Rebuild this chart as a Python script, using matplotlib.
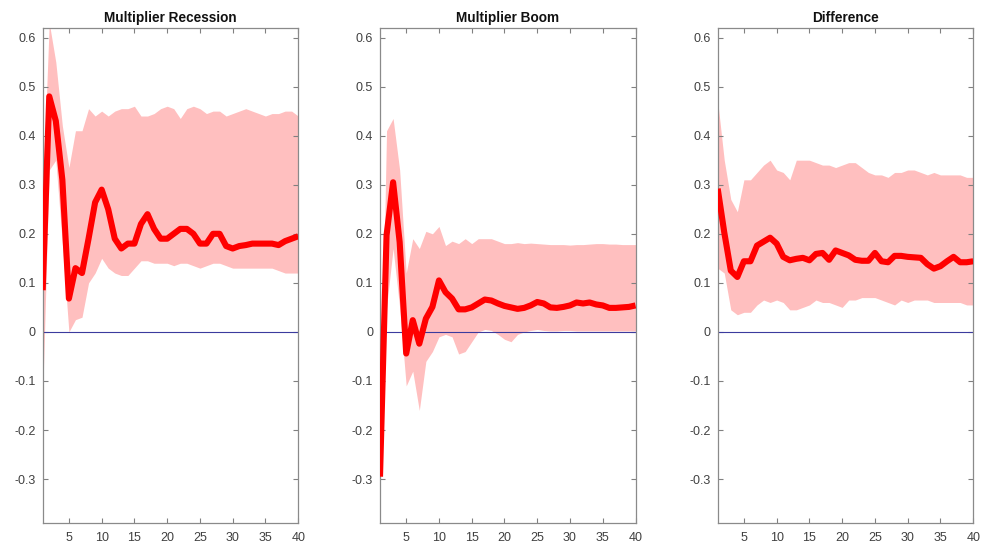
import numpy as np
import matplotlib
matplotlib.use("Agg")
import matplotlib.pyplot as plt

plt.rcParams['font.family'] = ['Liberation Sans', 'DejaVu Sans']

horizon = np.arange(1, 41)

titles = ["Multiplier Recession", "Multiplier Boom", "Difference"]

rec_mid = [0.085, 0.48, 0.43, 0.31, 0.068, 0.13, 0.12, 0.19, 0.264, 0.29,
           0.25, 0.19, 0.17, 0.18, 0.18, 0.22, 0.24, 0.21, 0.19, 0.19,
           0.20, 0.21, 0.21, 0.20, 0.18, 0.18, 0.20, 0.20, 0.175, 0.17,
           0.175, 0.177, 0.18, 0.18, 0.18, 0.18, 0.177, 0.185, 0.19, 0.195]
rec_up = [0.28, 0.63, 0.55, 0.42, 0.335, 0.41, 0.41, 0.455, 0.44, 0.45,
          0.44, 0.45, 0.455, 0.455, 0.46, 0.44, 0.44, 0.445, 0.455, 0.46,
          0.455, 0.435, 0.455, 0.46, 0.455, 0.445, 0.45, 0.45, 0.44, 0.445,
          0.45, 0.455, 0.45, 0.445, 0.44, 0.445, 0.445, 0.45, 0.45, 0.44]
rec_lo = [-0.13, 0.33, 0.35, 0.18, 0.0, 0.025, 0.03, 0.10, 0.12, 0.15,
          0.13, 0.12, 0.115, 0.115, 0.13, 0.145, 0.145, 0.14, 0.14, 0.14,
          0.135, 0.14, 0.14, 0.135, 0.13, 0.135, 0.14, 0.14, 0.135, 0.13,
          0.13, 0.13, 0.13, 0.13, 0.13, 0.13, 0.125, 0.12, 0.12, 0.12]

boom_mid = [-0.295, 0.197, 0.305, 0.183, -0.044, 0.024, -0.024, 0.027, 0.051, 0.105,
            0.081, 0.068, 0.046, 0.046, 0.05, 0.058, 0.066, 0.064, 0.058, 0.053,
            0.05, 0.047, 0.049, 0.054, 0.061, 0.058, 0.05, 0.049, 0.051, 0.054,
            0.06, 0.058, 0.06, 0.056, 0.054, 0.049, 0.049, 0.05, 0.051, 0.054]
boom_up = [-0.25, 0.41, 0.435, 0.33, 0.12, 0.19, 0.17, 0.205, 0.2, 0.215,
           0.176, 0.185, 0.18, 0.19, 0.18, 0.19, 0.19, 0.19, 0.185, 0.18,
           0.18, 0.182, 0.18, 0.181, 0.18, 0.179, 0.178, 0.178, 0.178, 0.177,
           0.178, 0.178, 0.179, 0.18, 0.18, 0.179, 0.179, 0.178, 0.178, 0.178]
boom_lo = [-0.33, 0.05, 0.17, 0.05, -0.11, -0.08, -0.16, -0.06, -0.04, -0.01,
           -0.005, -0.01, -0.045, -0.04, -0.02, 0.0, 0.005, 0.003, -0.005, -0.015,
           -0.02, -0.005, 0.0, 0.003, 0.005, 0.003, 0.002, 0.002, 0.003, 0.003,
           0.002, 0.002, 0.002, 0.002, 0.002, 0.002, 0.002, 0.002, 0.002, 0.002]

diff_mid = [0.292, 0.203, 0.125, 0.112, 0.144, 0.144, 0.176, 0.184, 0.192, 0.18,
            0.153, 0.146, 0.149, 0.151, 0.146, 0.159, 0.161, 0.147, 0.166, 0.161,
            0.156, 0.147, 0.145, 0.145, 0.161, 0.144, 0.142, 0.155, 0.155, 0.153,
            0.152, 0.151, 0.138, 0.129, 0.134, 0.144, 0.153, 0.142, 0.142, 0.144]
diff_up = [0.47, 0.35, 0.27, 0.245, 0.31, 0.31, 0.325, 0.34, 0.35, 0.33,
           0.325, 0.31, 0.35, 0.35, 0.35, 0.345, 0.34, 0.34, 0.335, 0.34,
           0.345, 0.345, 0.335, 0.325, 0.32, 0.32, 0.315, 0.325, 0.325, 0.33,
           0.33, 0.325, 0.32, 0.325, 0.32, 0.32, 0.32, 0.32, 0.315, 0.315]
diff_lo = [0.13, 0.12, 0.045, 0.035, 0.04, 0.04, 0.055, 0.065, 0.06, 0.065,
           0.06, 0.045, 0.045, 0.05, 0.055, 0.065, 0.06, 0.06, 0.055, 0.05,
           0.065, 0.065, 0.07, 0.07, 0.07, 0.065, 0.06, 0.055, 0.065, 0.06,
           0.065, 0.065, 0.065, 0.06, 0.06, 0.06, 0.06, 0.06, 0.055, 0.055]

mids = [rec_mid, boom_mid, diff_mid]
ups = [rec_up, boom_up, diff_up]
los = [rec_lo, boom_lo, diff_lo]

yticks = [-0.3, -0.2, -0.1, 0, 0.1, 0.2, 0.3, 0.4, 0.5, 0.6]
ytick_labels = ["-0.3", "-0.2", "-0.1", "0", "0.1", "0.2", "0.3", "0.4", "0.5", "0.6"]
xticks = [5, 10, 15, 20, 25, 30, 35, 40]

fig = plt.figure(figsize=(9.85, 5.45), dpi=100)
lefts = [42.7 / 985, 380 / 985, 717.7 / 985]
width = 255.5 / 985
bottom = 1 - 523.3 / 545
height = (523.3 - 27.7) / 545

for i in range(3):
    ax = fig.add_axes([lefts[i], bottom, width, height])
    ax.fill_between(horizon, los[i], ups[i], color='#ffbfbf', linewidth=0, zorder=1)
    ax.axhline(0, color='#3b3b9e', linewidth=0.8, zorder=2)
    ax.plot(horizon, mids[i], color='#ff0000', linewidth=4.4, zorder=3,
            solid_joinstyle='round', solid_capstyle='butt')
    ax.set_xlim(1, 40)
    ax.set_ylim(-0.39, 0.62)
    ax.set_xticks(xticks)
    ax.set_xticklabels([str(t) for t in xticks])
    ax.set_yticks(yticks)
    ax.set_yticklabels(ytick_labels)
    ax.tick_params(direction='in', length=3.5, width=0.8, top=True, right=True,
                   colors='#808080', labelcolor='#404040', labelsize=9, pad=5)
    ax.tick_params(axis='x', pad=6)
    for sp in ax.spines.values():
        sp.set_color('#8a8a8a')
        sp.set_linewidth(0.9)
    ax.set_title(titles[i], fontsize=9.8, fontweight='bold', color='#111111', pad=4)

fig.savefig("out.png", dpi=100)
